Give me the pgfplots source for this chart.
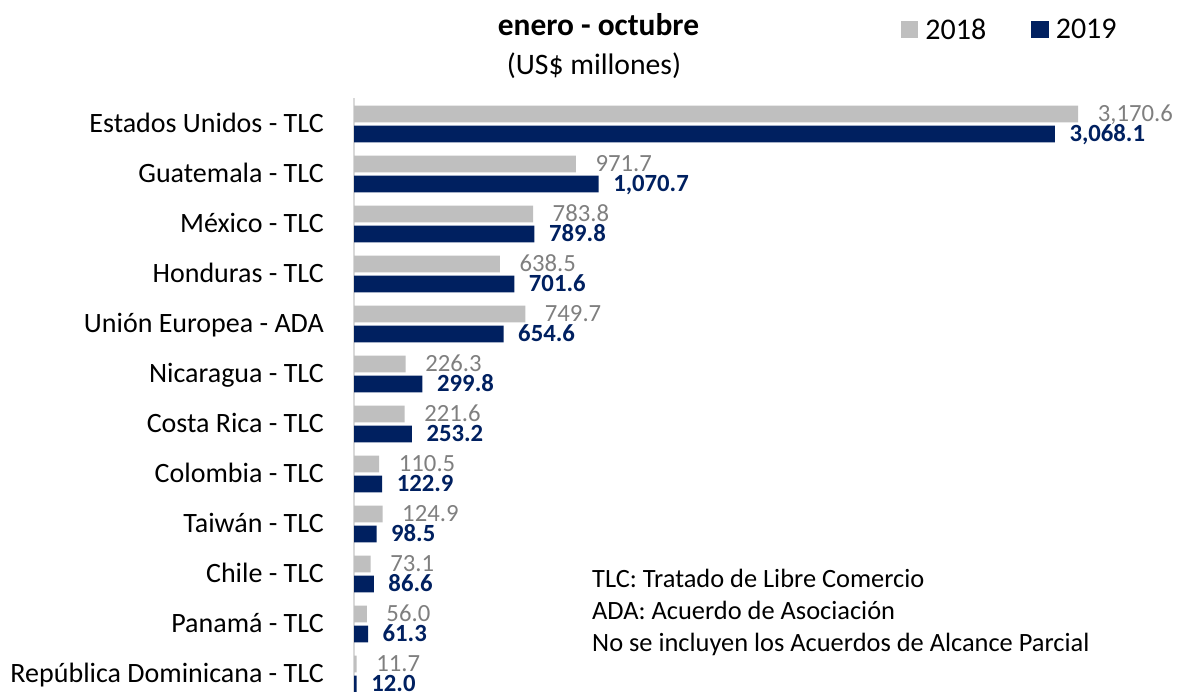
\documentclass[border=0pt]{standalone}
\usepackage{fontspec}
\setmainfont{Carlito}
\usepackage{pgfplots}
\pgfplotsset{compat=1.18}
\usepackage{pgfplotstable}
\definecolor{gbar}{HTML}{BFBFBF}
\definecolor{nbar}{HTML}{002060}
\definecolor{glab}{HTML}{7F7F7F}
\definecolor{axl}{HTML}{D9D9D9}

\pgfplotstableread{
val pos
3170.6 -0.2
971.7 0.8
783.8 1.8
638.5 2.8
749.7 3.8
226.3 4.8
221.6 5.8
110.5 6.8
124.9 7.8
73.1 8.8
56.0 9.8
11.7 10.8
}\dataA

\pgfplotstableread{
val pos
3068.1 0.2
1070.7 1.2
789.8 2.2
701.6 3.2
654.6 4.2
299.8 5.2
253.2 6.2
122.9 7.2
98.5 8.2
86.6 9.2
61.3 10.2
12.0 11.2
}\dataB

\begin{document}
\begin{tikzpicture}[x=1pt,y=1pt]
\useasboundingbox (0,0) rectangle (1177,-692);
\begin{axis}[
  at={(354pt,-98pt)}, anchor=north west,
  scale only axis, width=823pt, height=596pt,
  xmin=0, xmax=3603, ymin=-0.52, ymax=11.4, y dir=reverse,
  xbar, bar width=16.6pt, bar shift=0pt,
  axis x line=none, axis y line*=left,
  y axis line style={draw=axl, line width=1.5pt},
  xtick=\empty, ytick={0,...,11}, major tick length=0pt,
  yticklabels={Estados Unidos - TLC, Guatemala - TLC, México - TLC, Honduras - TLC, Unión Europea - ADA, Nicaragua - TLC, Costa Rica - TLC, Colombia - TLC, Taiwán - TLC, Chile - TLC, Panamá - TLC, República Dominicana - TLC},
  yticklabel style={font=\fontsize{28pt}{32pt}\selectfont, anchor=base east, inner sep=0pt, xshift=-30pt, yshift=-8.8pt},
  clip=false,
  legend style={at={(axis description cs:0.6646,1.1149)}, anchor=west, draw=none, fill=none, inner sep=0pt, outer sep=0pt,
    legend columns=2, font=\fontsize{30pt}{34pt}\selectfont,
    nodes={inner sep=0pt},
    /tikz/every odd column/.append style={column sep=7pt},
    /tikz/every even column/.append style={column sep=45pt}},
  legend cell align=left,
]
\addplot[xbar, fill=gbar, draw=none, point meta=x,
  nodes near coords={\pgfmathprintnumber[fixed,fixed zerofill,precision=1,1000 sep={,},assume math mode=true]{\pgfplotspointmeta}},
  every node near coord/.append style={font=\fontsize{24.7pt}{28pt}\selectfont, text=glab, anchor=base west, inner sep=0pt, xshift=19.5pt, yshift=-7.8pt},
  legend image code/.code={\fill[gbar] (0pt,-8.5pt) rectangle (17.5pt,8.5pt);}]
  table[x=val, y=pos]{\dataA};
\addlegendentry{2018}
\addplot[xbar, fill=nbar, draw=none, point meta=x,
  nodes near coords={\pgfmathprintnumber[fixed,fixed zerofill,precision=1,1000 sep={,},assume math mode=true]{\pgfplotspointmeta}},
  every node near coord/.append style={font=\bfseries\fontsize{24.7pt}{28pt}\selectfont, text=nbar, anchor=base west, inner sep=0pt, xshift=14.5pt, yshift=-7.8pt},
  legend image code/.code={\fill[nbar] (0pt,-8.5pt) rectangle (17.5pt,8.5pt);}]
  table[x=val, y=pos]{\dataB};
\addlegendentry{2019}
\end{axis}
\node[anchor=base, inner sep=0pt, font=\bfseries\fontsize{31.4pt}{35pt}\selectfont] at (598.5,-36) {enero - octubre};
\node[anchor=base, inner sep=0pt, font=\fontsize{29.7pt}{33pt}\selectfont] at (594,-75) {(US\$ millones)};
\node[anchor=base west, inner sep=0pt, font=\fontsize{26.4pt}{30pt}\selectfont] at (592,-587) {TLC: Tratado de Libre Comercio};
\node[anchor=base west, inner sep=0pt, font=\fontsize{26.4pt}{30pt}\selectfont] at (592,-619) {ADA: Acuerdo de Asociación};
\node[anchor=base west, inner sep=0pt, font=\fontsize{26.4pt}{30pt}\selectfont] at (592,-651.5) {No se incluyen los Acuerdos de Alcance Parcial};
\end{tikzpicture}
\end{document}
